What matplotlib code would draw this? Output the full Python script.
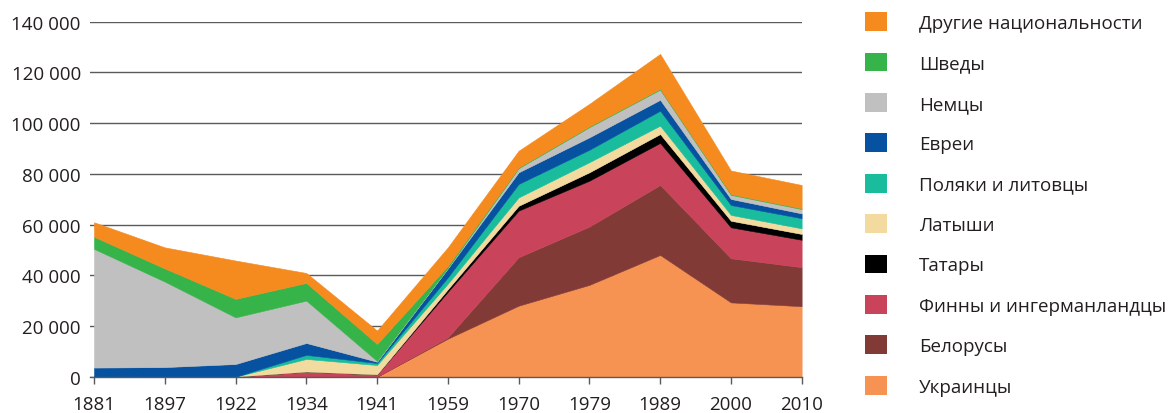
import numpy as np
import matplotlib
matplotlib.use('Agg')
import matplotlib.pyplot as plt
from matplotlib.patches import Patch
from matplotlib.ticker import FuncFormatter

plt.rcParams['font.family'] = ['Open Sans', 'DejaVu Sans']
plt.rcParams['text.color'] = '#231f20'

# --- данные ---
years = ['1881', '1897', '1922', '1934', '1941', '1959', '1970', '1979', '1989', '2000', '2010']

ukraintsy   = [0, 0, 0, 0, 0, 15000, 28000, 36200, 48000, 29300, 27800]
belorusy    = [0, 0, 0, 0, 0, 500, 19100, 23000, 27600, 17400, 15400]
finny       = [0, 0, 0, 2000, 900, 18000, 18400, 18100, 16600, 12200, 10800]
tatary      = [0, 0, 0, 0, 0, 1000, 1900, 3300, 3500, 2600, 2300]
latyshi     = [0, 0, 0, 5000, 3700, 2200, 3300, 4000, 3300, 2300, 2200]
polyaki     = [0, 0, 0, 1600, 800, 2500, 5300, 4900, 5900, 3900, 4000]
evrei       = [3600, 3800, 5000, 4700, 500, 3500, 4600, 4900, 4300, 2400, 1900]
nemtsy      = [46800, 33700, 18400, 16700, 300, 200, 1600, 4000, 4000, 1600, 1700]
shvedy      = [4800, 5200, 7300, 7000, 6700, 800, 300, 300, 300, 300, 300]
drugie      = [5700, 8300, 15100, 3900, 5300, 7300, 6600, 8900, 13800, 9300, 9200]

series = [ukraintsy, belorusy, finny, tatary, latyshi, polyaki, evrei, nemtsy, shvedy, drugie]
labels = ['Украинцы', 'Белорусы', 'Финны и ингерманландцы', 'Татары', 'Латыши',
          'Поляки и литовцы', 'Евреи', 'Немцы', 'Шведы', 'Другие национальности']
colors = ['#f79352', '#813a35', '#c9435a', '#000000', '#f3dba0',
          '#1abc9e', '#0652a0', '#c0c0c0', '#36b44a', '#f58a1f']

# --- рисунок ---
fig = plt.figure(figsize=(11.72, 4.14), dpi=100)
ax = fig.add_axes([0.0772, 0.0877, 0.6068, 0.8575])

x = np.arange(len(years))
ax.stackplot(x, *series, colors=colors, linewidth=0.4, edgecolor='face', zorder=2)

ax.set_xlim(-0.05, len(years) - 1)
ax.set_ylim(0, 140000)
ax.set_xticks(x)
ax.set_xticklabels(years)
ax.set_yticks(np.arange(0, 140001, 20000))
ax.yaxis.set_major_formatter(FuncFormatter(lambda v, p: f'{v:,.0f}'.replace(',', ' ')))

ax.grid(axis='y', color='#5a5a5a', linewidth=1.0, zorder=0)
ax.set_axisbelow(True)
for s in ['top', 'right', 'left']:
    ax.spines[s].set_visible(False)
ax.spines['bottom'].set_color('#5a5a5a')
ax.spines['bottom'].set_linewidth(1.0)
ax.spines['bottom'].set_zorder(3)

ax.tick_params(axis='x', length=5, width=1, color='#5a5a5a', pad=8, labelsize=13.5, labelcolor='#231f20')
ax.tick_params(axis='y', length=0, pad=7, labelsize=13.5, labelcolor='#231f20')

handles = [Patch(facecolor=c, edgecolor='none') for c in colors][::-1]
fig.legend(handles, labels[::-1], loc='upper left', bbox_to_anchor=(0.738, 0.968),
           frameon=False, borderpad=0, borderaxespad=0, fontsize=13.5,
           handlelength=1.17, handleheight=1.17, handletextpad=1.7, labelspacing=1.1)

fig.savefig('out.png', dpi=100)
